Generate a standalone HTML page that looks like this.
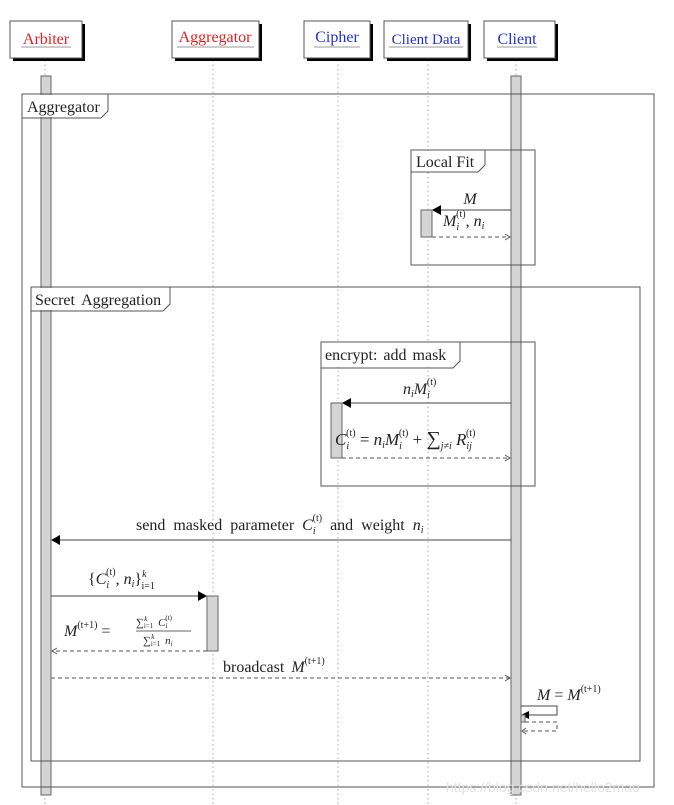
<!DOCTYPE html>
<html><head><meta charset="utf-8"><style>
html,body{margin:0;padding:0;background:#fff;}
svg{display:block;font-family:"Liberation Serif",serif;}
text{fill:#222;font-size:16px;}
.i{font-style:italic;}
.sb{font-size:10px;font-style:italic;}
.sp{font-size:10px;}
</style></head><body>
<svg width="674" height="805" viewBox="0 0 674 805" xmlns="http://www.w3.org/2000/svg">
<g stroke="#aaa" stroke-width="1" stroke-dasharray="1.5,3">
<line x1="45" y1="60" x2="45" y2="805"/>
<line x1="213" y1="60" x2="213" y2="805"/>
<line x1="338" y1="60" x2="338" y2="805"/>
<line x1="428" y1="60" x2="428" y2="805"/>
<line x1="516" y1="60" x2="516" y2="805"/>
</g>
<g>
<rect x="13" y="24" width="72" height="37" fill="#000"/>
<rect x="10" y="21" width="72" height="37" fill="#fff" stroke="#555"/>
<text x="46" y="44" text-anchor="middle" style="fill:#e02020">Arbiter</text>
<line x1="21" y1="47" x2="71" y2="47" stroke="#999"/>
<rect x="175" y="24" width="87" height="37" fill="#000"/>
<rect x="172" y="21" width="87" height="37" fill="#fff" stroke="#555"/>
<text x="215" y="42" text-anchor="middle" style="fill:#e02020">Aggregator</text>
<line x1="177" y1="47" x2="254" y2="47" stroke="#999"/>
<rect x="307" y="24" width="66" height="37" fill="#000"/>
<rect x="304" y="21" width="66" height="37" fill="#fff" stroke="#555"/>
<text x="337" y="42" text-anchor="middle" style="fill:#2030d0">Cipher</text>
<line x1="314" y1="47" x2="360" y2="47" stroke="#999"/>
<rect x="387" y="24" width="84" height="37" fill="#000"/>
<rect x="384" y="21" width="84" height="37" fill="#fff" stroke="#555"/>
<text x="426" y="44" text-anchor="middle" style="fill:#2030d0;font-size:15px">Client Data</text>
<line x1="389" y1="47" x2="463" y2="47" stroke="#999"/>
<rect x="487" y="24" width="71" height="37" fill="#000"/>
<rect x="484" y="21" width="71" height="37" fill="#fff" stroke="#555"/>
<text x="517" y="44" text-anchor="middle" style="fill:#2030d0">Client</text>
<line x1="497" y1="47" x2="537" y2="47" stroke="#999"/>
</g>
<rect x="41" y="76" width="10" height="719" fill="#d4d4d4" stroke="#666"/>
<rect x="511" y="76" width="10" height="719" fill="#d4d4d4" stroke="#666"/>
<g fill="none" stroke="#555" stroke-width="1">
<rect x="22" y="94" width="632" height="693"/>
<path d="M22 118 H101 L108 111 V94"/>
<rect x="411" y="150" width="124" height="115"/>
<path d="M411 172 H478 L485 165 V150"/>
<rect x="31" y="287" width="609" height="474"/>
<path d="M31 311 H163 L170 304 V287"/>
<rect x="321" y="342" width="214" height="144"/>
<path d="M321 368 H453 L460 361 V342"/>
</g>
<g fill="#fff">
<rect x="23" y="95" width="78" height="22"/><rect x="32" y="288" width="131" height="22"/>
<rect x="412" y="151" width="66" height="20"/><rect x="322" y="343" width="131" height="24"/>
</g>
<text x="27" y="112">Aggregator</text>
<text x="416" y="167">Local Fit</text>
<text x="35" y="305" style="word-spacing:3px">Secret Aggregation</text>
<text x="325" y="360" style="word-spacing:2px">encrypt: add mask</text>
<rect x="421" y="210" width="11" height="27" fill="#d4d4d4" stroke="#666"/>
<line x1="511" y1="210" x2="440" y2="210" stroke="#444"/>
<polygon points="432,210 441,205 441,215" fill="#000"/>
<text x="470" y="204" class="i" text-anchor="middle">M</text>
<line x1="432" y1="237" x2="510" y2="237" stroke="#555" stroke-dasharray="4,3"/>
<path d="M505 234 L510 237 L505 240" fill="none" stroke="#555"/>
<text x="443" y="226"><tspan class="i">M</tspan><tspan class="sb" dy="4">i</tspan><tspan class="sp" dx="-3" dy="-13">(t)</tspan><tspan dy="9">, </tspan><tspan class="i">n</tspan><tspan class="sb" dy="3">i</tspan></text>
<rect x="331" y="403" width="11" height="55" fill="#d4d4d4" stroke="#666"/>
<line x1="511" y1="403" x2="350" y2="403" stroke="#444"/>
<polygon points="342,403 351,398 351,408" fill="#000"/>
<text x="403" y="394"><tspan class="i">n</tspan><tspan class="sb" dy="3">i</tspan><tspan class="i" dy="-3">M</tspan><tspan class="sb" dy="4">i</tspan><tspan class="sp" dx="-3" dy="-13">(t)</tspan></text>
<line x1="342" y1="458" x2="510" y2="458" stroke="#555" stroke-dasharray="4,3"/>
<path d="M505 455 L510 458 L505 461" fill="none" stroke="#555"/>
<text x="335" y="445" style="font-size:17px"><tspan class="i">C</tspan><tspan class="sb" dy="4">i</tspan><tspan class="sp" dx="-3" dy="-13">(t)</tspan><tspan dy="9"> = </tspan><tspan class="i">n</tspan><tspan class="sb" dy="3">i</tspan><tspan class="i" dy="-3">M</tspan><tspan class="sb" dy="4">i</tspan><tspan class="sp" dx="-3" dy="-13">(t)</tspan><tspan dy="9"> + </tspan><tspan style="font-size:20px">∑</tspan><tspan class="sb" dy="4">j≠i</tspan><tspan class="i" dy="-4"> R</tspan><tspan class="sb" dy="4">ij</tspan><tspan class="sp" dx="-6" dy="-13">(t)</tspan></text>
<line x1="511" y1="540" x2="59" y2="540" stroke="#444"/>
<polygon points="51,540 60,535 60,545" fill="#000"/>
<text x="136" y="530" style="word-spacing:4px">send masked parameter <tspan class="i">C</tspan><tspan class="sb" dy="4">i</tspan><tspan class="sp" dx="-3" dy="-13">(t)</tspan><tspan dy="9"> and weight </tspan><tspan class="i">n</tspan><tspan class="sb" dy="3">i</tspan></text>
<rect x="207" y="596" width="11" height="55" fill="#d4d4d4" stroke="#666"/>
<line x1="51" y1="596" x2="199" y2="596" stroke="#444"/>
<polygon points="207,596 198,591 198,601" fill="#000"/>
<text x="88" y="584">{<tspan class="i">C</tspan><tspan class="sb" dy="4">i</tspan><tspan class="sp" dx="-3" dy="-13">(t)</tspan><tspan dy="9">, </tspan><tspan class="i">n</tspan><tspan class="sb" dy="3">i</tspan><tspan dy="-3">}</tspan><tspan class="sb" dy="-7">k</tspan><tspan class="sp" dx="-5" dy="12">i=1</tspan></text>
<text x="64" y="636"><tspan class="i">M</tspan><tspan class="sp" dy="-8">(t+1)</tspan><tspan dy="8"> = </tspan></text>
<text x="136" y="626" style="font-size:11px">∑<tspan style="font-size:7px" dy="2">i=1</tspan><tspan style="font-size:7px;font-style:italic" dx="-9" dy="-7">k</tspan><tspan class="i" style="font-size:11px" dx="8" dy="5"> C</tspan><tspan style="font-size:7px;font-style:italic" dy="2">i</tspan><tspan style="font-size:7px" dx="-2" dy="-8">(t)</tspan></text>
<line x1="136" y1="631" x2="191" y2="631" stroke="#333" stroke-width="0.8"/>
<text x="143" y="644" style="font-size:11px">∑<tspan style="font-size:7px" dy="2">i=1</tspan><tspan style="font-size:7px;font-style:italic" dx="-9" dy="-7">k</tspan><tspan class="i" style="font-size:11px" dx="8" dy="5"> n</tspan><tspan style="font-size:7px;font-style:italic" dy="2">i</tspan></text>
<line x1="207" y1="651" x2="52" y2="651" stroke="#555" stroke-dasharray="4,3"/>
<path d="M57 648 L52 651 L57 654" fill="none" stroke="#555"/>
<line x1="51" y1="678" x2="510" y2="678" stroke="#555" stroke-dasharray="4,3"/>
<path d="M505 675 L510 678 L505 681" fill="none" stroke="#555"/>
<text x="223" y="672" style="word-spacing:3px">broadcast <tspan class="i">M</tspan><tspan class="sp" dy="-8">(t+1)</tspan></text>
<text x="537" y="700"><tspan class="i">M</tspan> = <tspan class="i">M</tspan><tspan class="sp" dy="-8">(t+1)</tspan></text>
<path d="M521 706 H557 V715 H529" fill="none" stroke="#444"/>
<polygon points="521,715 529,711 529,719" fill="#000"/>
<rect x="521" y="715" width="4" height="7" fill="#d4d4d4" stroke="#666"/>
<path d="M525 722 H557 V731 H522" fill="none" stroke="#555" stroke-dasharray="4,3"/>
<path d="M526 728 L522 731 L526 734" fill="none" stroke="#555"/>
<text x="446" y="792" style="font-family:'Liberation Sans',sans-serif;font-size:14px;fill:#e2e2e2">https://blog.csdn.net/hello2mao</text>
</svg>
</body></html>
